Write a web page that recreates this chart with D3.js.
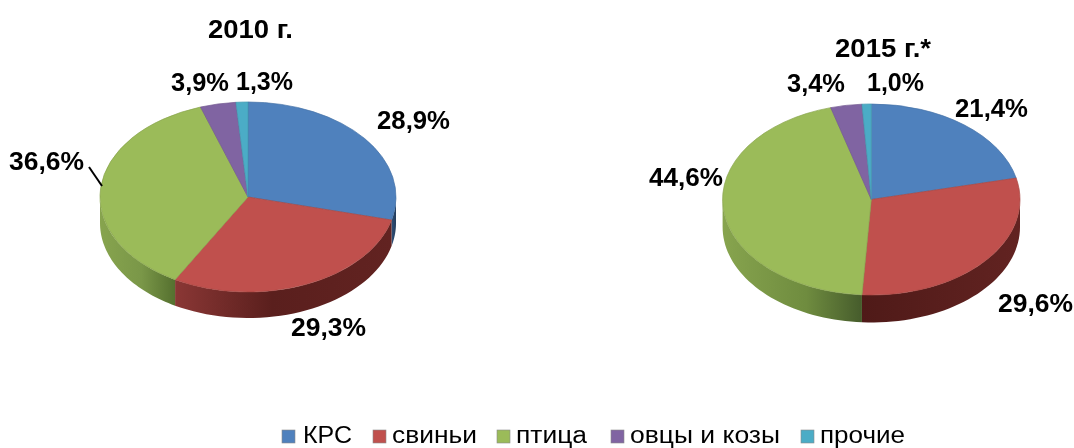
<!DOCTYPE html>
<html><head><meta charset="utf-8">
<script src="https://cdn.jsdelivr.net/npm/d3@7/dist/d3.min.js"></script>
<style>html,body{margin:0;padding:0;background:#fff}svg{display:block;filter:blur(0.45px)}text{font-family:"Liberation Sans",Arial,sans-serif;fill:#000}</style>
</head><body><svg id="c" width="1074" height="448"></svg>
<script>
const categories = ["КРС","свиньи","птица","овцы и козы","прочие"];
const colors = ["#4f81bd","#c0504d","#9bbb59","#8064a2","#4bacc6"];
const values2010 = [28.9,29.3,36.6,3.9,1.3];
const values2015 = [21.4,29.6,44.6,3.4,1.0];
const labels2010 = ["28,9%","29,3%","36,6%","3,9%","1,3%"];
const labels2015 = ["21,4%","29,6%","44,6%","3,4%","1,0%"];

const wallStops = {
  1:[["0%","#8a3735"],["45%","#5a1f1d"],["100%","#622321"]],
  2:[["0%","#87a44e"],["55%","#7a9748"],["100%","#55702f"]],
  0:[["0%","#2f5078"],["100%","#243d5c"]]
};
const wallStops2015 = {
  1:[["0%","#4f1a18"],["100%","#622321"]],
  2:[["0%","#87a44e"],["60%","#6f8c3f"],["100%","#465c2c"]],
  0:[["0%","#2f5078"],["100%","#243d5c"]]
};
const svg = d3.select("#c");
const defs = svg.append("defs");

function drawPie(id, vals, o, stops){
  const arcs = d3.pie().sort(null)(vals);
  const g = svg.append("g");
  const yScale = o.ry/o.rx;
  const px = a=>o.cx+o.rx*Math.sin(a), py=(a,d)=>o.cy-o.ry*Math.cos(a)+d;
  arcs.forEach((s,i)=>{
    const a0=Math.max(s.startAngle,Math.PI/2), a1=Math.min(s.endAngle,Math.PI*1.5);
    if(a1<=a0) return;
    const x0=px(a0), x1=px(a1);
    const gid=`w${id}${i}`;
    const lg=defs.append("linearGradient").attr("id",gid).attr("gradientUnits","userSpaceOnUse")
      .attr("x1",Math.min(x0,x1)).attr("x2",Math.max(x0,x1)).attr("y1",0).attr("y2",0);
    (stops[i]||[["0%",colors[i]],["100%",colors[i]]]).forEach(t=>lg.append("stop").attr("offset",t[0]).attr("stop-color",t[1]));
    const n=40, ts=d3.range(n+1).map(k=>a0+(a1-a0)*k/n);
    const pts=ts.map(a=>[px(a),py(a,0)]).concat(ts.slice().reverse().map(a=>[px(a),py(a,o.depth)]));
    g.append("path").attr("d",d3.line()(pts)+"Z").attr("fill",`url(#${gid})`);
  });
  const arc=d3.arc().innerRadius(0).outerRadius(o.rx);
  g.append("g").attr("transform",`translate(${o.cx},${o.cy}) scale(1,${yScale})`)
   .selectAll("path").data(arcs).join("path")
   .attr("d",arc).attr("fill",(d,i)=>colors[i])
   .attr("stroke",(d,i)=>d3.color(colors[i]).darker(0.35)).attr("stroke-width",0.7).attr("vector-effect","non-scaling-stroke");
}
drawPie("a",values2010,{cx:248,cy:197,rx:148,ry:95,depth:26},wallStops);
drawPie("b",values2015,{cx:871.3,cy:199.5,rx:148.7,ry:95.5,depth:27.5},wallStops2015);

function label(t,x0,x1,base,size,bold){
  svg.append("text").attr("x",x0).attr("y",base).attr("font-size",size)
   .attr("font-weight",bold?"bold":"normal").attr("textLength",x1-x0).attr("lengthAdjust","spacingAndGlyphs").text(t);
}
const fs=26;
label("2010 г.",208,293,37.5,25.5,true);
label("2015 г.*",835,931,57,25.5,true);
label(labels2010[0],377,450,129,fs,true);
label(labels2010[1],291,366,336,fs,true);
label(labels2010[2],9,84,170,fs,true);
label(labels2010[3],171,229,91,fs,true);
label(labels2010[4],236,293,90,fs,true);
label(labels2015[0],955,1028,117,fs,true);
label(labels2015[1],998,1073,312,fs,true);
label(labels2015[2],649,723,186,fs,true);
label(labels2015[3],787,845,92,fs,true);
label(labels2015[4],867,924,91,fs,true);
svg.append("line").attr("x1",89).attr("y1",167).attr("x2",102).attr("y2",186).attr("stroke","#000").attr("stroke-width",2);

const legendBox=[[282,303,352],[373,392,477],[497,516,587],[611,630,780],[801,820,905]];
categories.forEach((c,i)=>{
  const b=legendBox[i];
  svg.append("rect").attr("x",b[0]).attr("y",430).attr("width",13).attr("height",13)
    .attr("fill",colors[i]).attr("stroke","#8a8a8a").attr("stroke-width",0.6);
  label(c,b[1],b[2],443,23,false);
});
</script></body></html>
